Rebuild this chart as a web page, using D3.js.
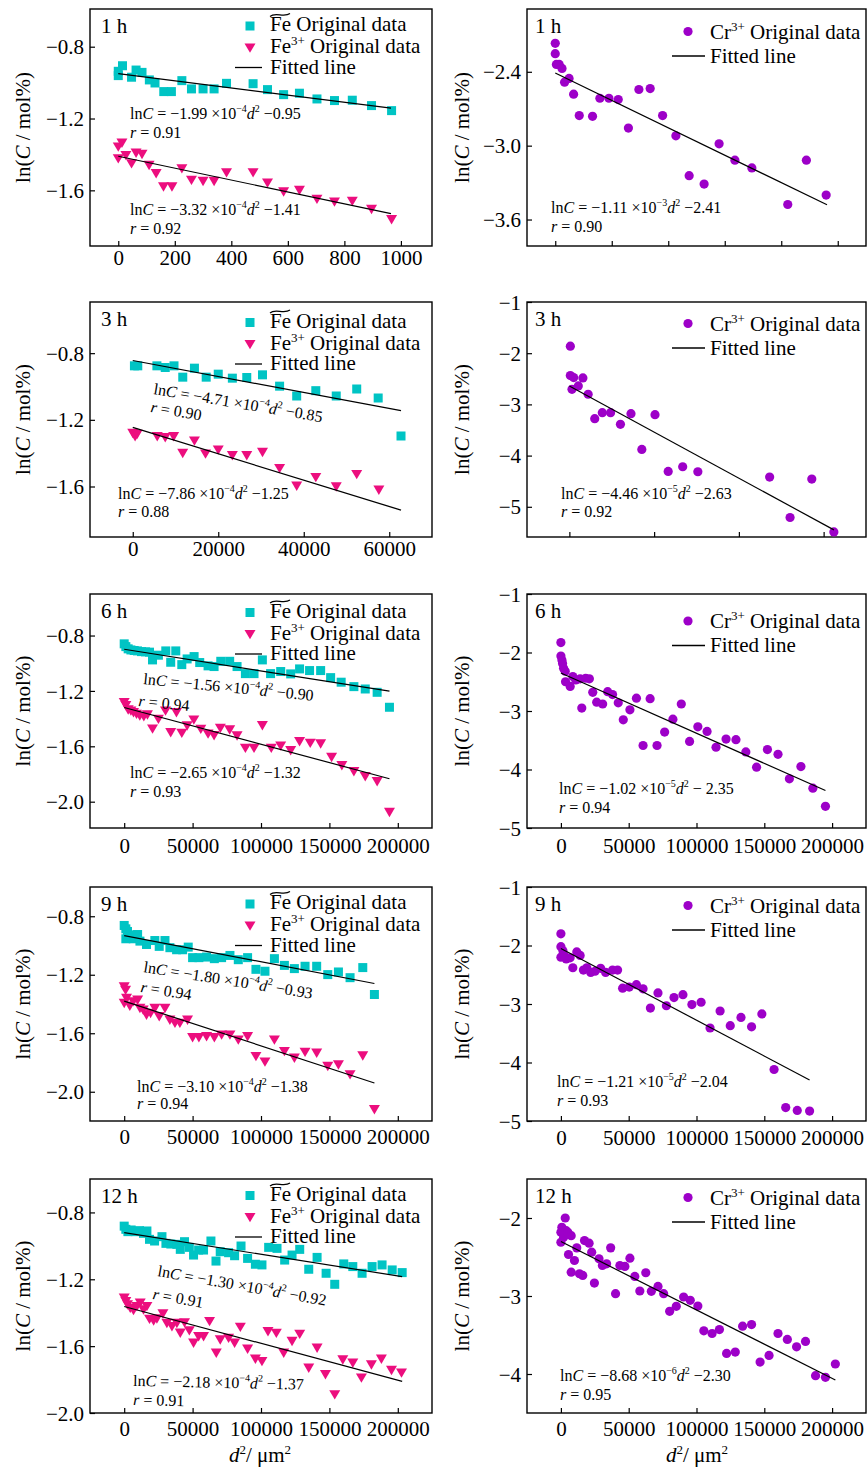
<!DOCTYPE html>
<head>
<meta charset="utf-8" />
<script src="https://d3js.org/d3.v7.min.js"></script>
<style>
    body { margin: 0; background: #fff; }
    text { font-family: "Liberation Serif", "Times New Roman", serif; fill: #000; }
</style>
</head>
<body>
<script>
// ---------- data ----------
// [d^2 (um^2), ln(C / mol%)]
var fe1h = [[0,-0.937],[0,-0.961],[15,-0.906],[47,-0.970],[63,-0.930],[84,-0.943],[110,-0.985],[130,-1.002],[161,-1.05],[188,-1.05],[225,-0.989],[259,-1.035],[300,-1.035],[339,-1.035],[383,-1.004],[477,-1.006],[528,-1.039],[585,-1.067],[641,-1.059],[703,-1.091],[765,-1.10],[828,-1.098],[896,-1.128],[967,-1.156]];
var fe3_1h = [[0,-1.359],[0,-1.424],[13,-1.337],[27,-1.406],[47,-1.452],[63,-1.393],[84,-1.40],[109,-1.461],[134,-1.507],[160,-1.581],[190,-1.581],[225,-1.48],[259,-1.544],[300,-1.55],[339,-1.55],[383,-1.502],[477,-1.502],[528,-1.559],[585,-1.609],[641,-1.60],[703,-1.65],[765,-1.665],[828,-1.661],[896,-1.706],[967,-1.763]];
var cr1h = [[0,-2.169],[0,-2.253],[4,-2.34],[14,-2.34],[24,-2.373],[33,-2.484],[49,-2.454],[65,-2.582],[85,-2.756],[132,-2.762],[158,-2.615],[190,-2.615],[223,-2.626],[259,-2.857],[296,-2.544],[336,-2.536],[380,-2.756],[427,-2.92],[474,-3.244],[527,-3.312],[580,-2.985],[636,-3.118],[696,-3.181],[823,-3.478],[889,-3.118],[959,-3.401]];

var fe3h = [[392,-0.876],[1176,-0.876],[5650,-0.876],[7600,-0.886],[9650,-0.876],[11700,-0.944],[14430,-0.89],[17180,-0.944],[20000,-0.926],[23300,-0.95],[26670,-0.946],[30350,-0.93],[34350,-0.998],[38350,-1.057],[42820,-1.025],[47600,-1.057],[52390,-1.015],[57410,-1.069],[62750,-1.297]];
var fe3_3h = [[0,-1.281],[550,-1.301],[1020,-1.287],[5725,-1.301],[7600,-1.307],[9570,-1.301],[11690,-1.401],[14430,-1.327],[17020,-1.405],[20000,-1.381],[23300,-1.415],[26670,-1.415],[30350,-1.395],[34350,-1.492],[38350,-1.598],[42820,-1.546],[47600,-1.602],[52390,-1.528],[57570,-1.622]];
var cr3h = [[230,-1.863],[230,-2.437],[1010,-2.476],[620,-2.705],[2100,-2.639],[3190,-2.483],[4430,-2.802],[5985,-3.279],[7770,-3.161],[9720,-3.161],[12050,-3.389],[14540,-3.181],[17100,-3.879],[20210,-3.20],[23320,-4.309],[26740,-4.218],[30320,-4.316],[47260,-4.42],[52080,-5.209],[57210,-4.459],[62420,-5.49]];

var fe6h = [[0,-0.86],[1200,-0.88],[2900,-0.896],[4900,-0.904],[7300,-0.908],[9700,-0.911],[12650,-0.916],[15600,-0.918],[18500,-0.92],[20700,-0.976],[25000,-0.942],[30400,-0.911],[34000,-0.993],[37700,-0.911],[42100,-1.01],[46000,-0.969],[51100,-0.952],[55200,-0.995],[61300,-1.019],[65700,-1.024],[70600,-0.986],[77100,-0.986],[82500,-1.024],[88600,-1.075],[94900,-1.075],[101000,-0.976],[107000,-1.075],[114400,-1.06],[121700,-1.077],[128200,-1.041],[135500,-1.053],[143600,-1.053],[150900,-1.104],[158600,-1.137],[167900,-1.169],[176200,-1.186],[184900,-1.21],[193900,-1.318]];
var fe3_6h = [[0,-1.284],[1200,-1.306],[2900,-1.337],[4900,-1.345],[6800,-1.357],[9000,-1.369],[11400,-1.381],[14350,-1.386],[17000,-1.373],[20700,-1.475],[25000,-1.405],[30200,-1.345],[34000,-1.501],[38200,-1.357],[42100,-1.506],[46000,-1.453],[50900,-1.41],[56000,-1.477],[61300,-1.511],[65700,-1.523],[70300,-1.47],[77100,-1.482],[82500,-1.525],[88600,-1.614],[94900,-1.614],[101000,-1.451],[107500,-1.614],[114400,-1.598],[121700,-1.631],[128200,-1.566],[136000,-1.578],[143600,-1.583],[151600,-1.68],[159100,-1.74],[167900,-1.783],[176200,-1.819],[184900,-1.855],[193900,-2.077]];
var cr6h = [[0,-1.83],[0,-2.06],[730,-2.13],[1220,-2.19],[1960,-2.27],[3180,-2.32],[3420,-2.50],[6850,-2.58],[8800,-2.41],[11000,-2.47],[14200,-2.45],[15400,-2.95],[18300,-2.44],[21000,-2.45],[23500,-2.68],[26400,-2.85],[30800,-2.88],[34500,-2.67],[38100,-2.72],[42300,-2.86],[46000,-3.15],[50900,-2.98],[55700,-2.78],[60600,-3.59],[65800,-2.79],[70900,-3.59],[76500,-3.36],[82600,-3.14],[88800,-2.88],[94900,-3.52],[101000,-3.27],[107800,-3.35],[114400,-3.62],[121800,-3.48],[129100,-3.49],[136400,-3.70],[144300,-3.96],[152300,-3.66],[160100,-3.74],[168500,-4.16],[177000,-3.95],[185800,-4.32],[195100,-4.63]];

var fe9h = [[0,-0.863],[1200,-0.886],[2400,-0.904],[1200,-0.954],[4100,-0.927],[6600,-0.954],[9800,-0.925],[11500,-0.97],[16300,-0.993],[22400,-0.966],[25600,-1.006],[29800,-0.966],[33400,-1.015],[38300,-1.029],[42700,-1.029],[46800,-1.011],[50000,-1.083],[54600,-1.083],[60200,-1.079],[65900,-1.09],[71200,-1.083],[77300,-1.068],[83400,-1.097],[90200,-1.083],[96300,-1.163],[102900,-1.176],[109800,-1.09],[117100,-1.136],[124400,-1.158],[132200,-1.142],[140700,-1.142],[148800,-1.199],[156600,-1.181],[165100,-1.22],[174400,-1.151],[182900,-1.335]];
var fe3_9h = [[0,-1.283],[1000,-1.306],[1700,-1.362],[0,-1.396],[4100,-1.415],[6600,-1.385],[9800,-1.374],[11500,-1.43],[13900,-1.442],[16300,-1.476],[19300,-1.464],[22400,-1.43],[25600,-1.487],[29800,-1.43],[33400,-1.51],[37100,-1.532],[40700,-1.532],[46300,-1.51],[50000,-1.63],[54600,-1.63],[60200,-1.623],[65900,-1.63],[71200,-1.612],[77300,-1.612],[83400,-1.646],[90200,-1.623],[96300,-1.759],[102900,-1.797],[109800,-1.646],[117100,-1.725],[124400,-1.77],[132200,-1.73],[140700,-1.736],[148800,-1.827],[156600,-1.816],[165100,-1.884],[174400,-1.755],[182900,-2.122]];
var cr9h = [[0,-1.80],[0,-2.02],[0,-2.20],[1500,-2.09],[2400,-2.17],[3900,-2.23],[6800,-2.21],[8800,-2.38],[11700,-2.11],[14200,-2.17],[16600,-2.42],[19100,-2.38],[22000,-2.46],[25200,-2.44],[29300,-2.39],[33000,-2.46],[38100,-2.42],[41800,-2.42],[45500,-2.73],[50400,-2.71],[55700,-2.67],[60600,-2.74],[66000,-3.07],[71600,-2.81],[77800,-3.03],[83400,-2.89],[90000,-2.84],[96600,-3.01],[103400,-2.97],[110000,-3.41],[117400,-3.12],[124900,-3.37],[132800,-3.23],[140600,-3.39],[148200,-3.17],[157200,-4.12],[165800,-4.77],[174300,-4.82],[183400,-4.83]];

var fe12h = [[0,-0.882],[1200,-0.901],[2700,-0.915],[5100,-0.905],[8000,-0.915],[11200,-0.909],[14100,-0.925],[16600,-0.911],[18500,-0.961],[22200,-0.971],[27600,-0.945],[30500,-0.985],[34100,-0.989],[38500,-0.991],[41000,-1.021],[44100,-0.975],[47600,-1.009],[50700,-1.055],[54400,-1.025],[58000,-1.025],[63400,-0.971],[67100,-1.091],[70200,-1.035],[76300,-1.041],[80700,-1.059],[85400,-1.001],[90200,-1.075],[95900,-1.110],[100700,-1.114],[105600,-1.009],[111700,-1.015],[117300,-1.085],[122700,-1.055],[128300,-1.021],[134900,-1.140],[141000,-1.069],[147600,-1.164],[153900,-1.230],[160500,-1.108],[167100,-1.124],[173900,-1.164],[181200,-1.124],[188500,-1.114],[195900,-1.144],[203200,-1.160]];
var fe3_12h = [[0,-1.313],[1200,-1.333],[2400,-1.353],[4400,-1.373],[6800,-1.387],[9300,-1.363],[11700,-1.343],[14100,-1.383],[16600,-1.363],[18500,-1.439],[21500,-1.449],[23900,-1.437],[28300,-1.407],[31200,-1.464],[34900,-1.483],[38500,-1.464],[41000,-1.522],[44100,-1.46],[47600,-1.508],[50700,-1.582],[54400,-1.543],[58000,-1.543],[62400,-1.453],[67300,-1.642],[70200,-1.563],[76300,-1.553],[80700,-1.582],[84900,-1.487],[90200,-1.618],[95900,-1.678],[100700,-1.692],[105100,-1.513],[111200,-1.523],[116600,-1.642],[122700,-1.572],[128300,-1.529],[134900,-1.732],[141000,-1.612],[147100,-1.771],[153900,-1.891],[159800,-1.682],[167100,-1.702],[173400,-1.791],[180700,-1.712],[188000,-1.678],[195400,-1.745],[202700,-1.761]];
var cr12h = [[0,-2.183],[0,-2.311],[700,-2.119],[2000,-2.247],[3200,-2.0],[3900,-2.162],[5100,-2.183],[7600,-2.226],[5600,-2.468],[7600,-2.694],[10000,-2.545],[11700,-2.383],[13700,-2.715],[16100,-2.736],[17400,-2.289],[20800,-2.323],[22700,-2.438],[24700,-2.834],[28100,-2.523],[30600,-2.609],[33700,-2.587],[36700,-2.383],[40300,-2.970],[43500,-2.609],[47200,-2.621],[50900,-2.515],[54500,-2.749],[58200,-2.936],[62600,-2.702],[66700,-2.940],[71600,-2.877],[75800,-2.970],[80200,-3.196],[85100,-3.132],[90500,-3.013],[95400,-3.055],[101000,-3.128],[105400,-3.447],[111500,-3.481],[116900,-3.430],[122200,-3.736],[128600,-3.719],[134000,-3.387],[140600,-3.366],[146900,-3.847],[153500,-3.762],[160100,-3.481],[167000,-3.557],[173800,-3.651],[180400,-3.583],[187800,-4.021],[195100,-4.043],[202400,-3.872]];

// fitted line end points
var feFit1h = [[0,-0.95],[965,-1.142]], fe3Fit1h = [[0,-1.41],[965,-1.73]], crFit1h = [[0,-2.41],[962,-3.48]];
var feFit3h = [[0,-0.844],[62750,-1.145]], fe3Fit3h = [[0,-1.245],[62750,-1.742]], crFit3h = [[0,-2.639],[62420,-5.451]];
var feFit6h = [[0,-0.899],[193900,-1.202]], fe3Fit6h = [[0,-1.32],[193900,-1.834]], crFit6h = [[0,-2.35],[195100,-4.36]];
var feFit9h = [[0,-0.932],[182900,-1.26]], fe3Fit9h = [[0,-1.38],[182900,-1.94]], crFit9h = [[0,-2.05],[183400,-4.30]];
var feFit12h = [[0,-0.921],[203200,-1.184]], fe3Fit12h = [[0,-1.363],[203200,-1.811]], crFit12h = [[0,-2.302],[202400,-4.077]];

// fit equations: [coefficient, exponent, intercept, r]
var eqFe1h = ["\u22121.99", "\u22124", "\u22120.95", "0.91"], eqFe3_1h = ["\u22123.32", "\u22124", "\u22121.41", "0.92"], eqCr1h = ["\u22121.11", "\u22123", "\u22122.41", "0.90"];
var eqFe3h = ["\u22124.71", "\u22124", "\u22120.85", "0.90"], eqFe3_3h = ["\u22127.86", "\u22124", "\u22121.25", "0.88"], eqCr3h = ["\u22124.46", "\u22125", "\u22122.63", "0.92"];
var eqFe6h = ["\u22121.56", "\u22124", "\u22120.90", "0.94"], eqFe3_6h = ["\u22122.65", "\u22124", "\u22121.32", "0.93"], eqCr6h = ["\u22121.02", "\u22125", "\u2212 2.35", "0.94"];
var eqFe9h = ["\u22121.80", "\u22124", "\u22120.93", "0.94"], eqFe3_9h = ["\u22123.10", "\u22124", "\u22121.38", "0.94"], eqCr9h = ["\u22121.21", "\u22125", "\u22122.04", "0.93"];
var eqFe12h = ["\u22121.30", "\u22124", "\u22120.92", "0.91"], eqFe3_12h = ["\u22122.18", "\u22124", "\u22121.37", "0.91"], eqCr12h = ["\u22128.68", "\u22126", "\u22122.30", "0.95"];

// ticks
var xTicks1h = [0, 200, 400, 600, 800, 1000];
var xTicks3h = [0, 20000, 40000, 60000];
var xTicksLong = [0, 50000, 100000, 150000, 200000];
var yTicksFe = [-0.8, -1.2, -1.6];
var yTicksFe2 = [-0.8, -1.2, -1.6, -2.0];
var yTicksCr1h = [-2.4, -3.0, -3.6];
var yTicksCr = [-1, -2, -3, -4, -5];
var yTicksCr12h = [-2, -3, -4];

// ---------- drawing ----------
var width = 867, height = 1468;
var cyan = "#00c4c4", pink = "#ec0e7e", purple = "#9d00c8";

var svg = d3.select("body").append("svg")
    .attr("width", width)
    .attr("height", height);

var cols = [[90, 432], [527, 866]];

function minus(v, dec) {
    return (v < 0 ? "\u2212" : "") + Math.abs(v).toFixed(dec);
}

var panels = [
    { label: "1 h", col: 0, top: 9, bottom: 246, xd: [-100, 1110], xt: xTicks1h, xl: true, xoff: 18.5,
      yd: [-1.91, -0.59], yt: yTicksFe, dec: 1, legY: 16,
      series: [{ d: fe1h, fit: feFit1h, s: "sq" }, { d: fe3_1h, fit: fe3Fit1h, s: "tri" }],
      eqs: [{ e: eqFe1h, x: 130, y: 119, rx: 130, ry: 138, rot: 0 }, { e: eqFe3_1h, x: 130, y: 215, rx: 130, ry: 234, rot: 0 }] },
    { label: "1 h", col: 1, top: 9, bottom: 246, xd: [-100, 1100], xt: xTicks1h, xl: false,
      yd: [-3.815, -1.89], yt: yTicksCr1h, dec: 1, legY: 22.5,
      series: [{ d: cr1h, fit: crFit1h, s: "ci" }],
      eqs: [{ e: eqCr1h, x: 551, y: 213, rx: 551, ry: 232, rot: 0 }] },
    { label: "3 h", col: 0, top: 302, bottom: 537, xd: [-10000, 70000], xt: xTicks3h, xl: true, xoff: 18.5,
      yd: [-1.903, -0.493], yt: yTicksFe, dec: 1, legY: 19.5,
      series: [{ d: fe3h, fit: feFit3h, s: "sq" }, { d: fe3_3h, fit: fe3Fit3h, s: "tri" }],
      eqs: [{ e: eqFe3h, x: 153, y: 394, rx: 150, ry: 412, rot: 9.5 }, { e: eqFe3_3h, x: 118, y: 499, rx: 118, ry: 517, rot: 0 }] },
    { label: "3 h", col: 1, top: 302, bottom: 537, xd: [-10000, 70000], xt: xTicks3h, xl: false,
      yd: [-5.59, -1], yt: yTicksCr, dec: 0, legY: 21.5,
      series: [{ d: cr3h, fit: crFit3h, s: "ci" }],
      eqs: [{ e: eqCr3h, x: 561, y: 499, rx: 561, ry: 517, rot: 0 }] },
    { label: "6 h", col: 0, top: 594, bottom: 828, xd: [-25000, 225000], xt: xTicksLong, xl: true, xoff: 24.5,
      yd: [-2.19, -0.5], yt: yTicksFe2, dec: 1, legY: 17.5,
      series: [{ d: fe6h, fit: feFit6h, s: "sq" }, { d: fe3_6h, fit: fe3Fit6h, s: "tri" }],
      eqs: [{ e: eqFe6h, x: 143, y: 684, rx: 138, ry: 706, rot: 5.6 }, { e: eqFe3_6h, x: 130, y: 778, rx: 130, ry: 797, rot: 0 }] },
    { label: "6 h", col: 1, top: 594, bottom: 828, xd: [-25000, 225000], xt: xTicksLong, xl: true, xoff: 24.5,
      yd: [-5, -1], yt: yTicksCr, dec: 0, legY: 27,
      series: [{ d: cr6h, fit: crFit6h, s: "ci" }],
      eqs: [{ e: eqCr6h, x: 559, y: 794, rx: 559, ry: 813, rot: 0 }] },
    { label: "9 h", col: 0, top: 887, bottom: 1121, xd: [-25000, 225000], xt: xTicksLong, xl: true, xoff: 23,
      yd: [-2.2, -0.6], yt: yTicksFe2, dec: 1, legY: 16,
      series: [{ d: fe9h, fit: feFit9h, s: "sq" }, { d: fe3_9h, fit: fe3Fit9h, s: "tri" }],
      eqs: [{ e: eqFe9h, x: 143, y: 972, rx: 140, ry: 992, rot: 9 }, { e: eqFe3_9h, x: 137, y: 1092, rx: 137, ry: 1109, rot: 0 }] },
    { label: "9 h", col: 1, top: 887, bottom: 1121, xd: [-25000, 225000], xt: xTicksLong, xl: true, xoff: 24,
      yd: [-5, -1], yt: yTicksCr, dec: 0, legY: 18.5,
      series: [{ d: cr9h, fit: crFit9h, s: "ci" }],
      eqs: [{ e: eqCr9h, x: 557, y: 1087, rx: 557, ry: 1106, rot: 0 }] },
    { label: "12 h", col: 0, top: 1179, bottom: 1413, xd: [-25000, 225000], xt: xTicksLong, xl: true, xoff: 23,
      yd: [-2.0, -0.6], yt: yTicksFe2, dec: 1, legY: 15.5,
      series: [{ d: fe12h, fit: feFit12h, s: "sq" }, { d: fe3_12h, fit: fe3Fit12h, s: "tri" }],
      eqs: [{ e: eqFe12h, x: 157, y: 1276, rx: 152, ry: 1299, rot: 10 }, { e: eqFe3_12h, x: 133, y: 1386, rx: 133, ry: 1405, rot: 1.2 }] },
    { label: "12 h", col: 1, top: 1179, bottom: 1413, xd: [-25000, 225000], xt: xTicksLong, xl: true, xoff: 23,
      yd: [-4.5, -1.5], yt: yTicksCr12h, dec: 0, legY: 18.5,
      series: [{ d: cr12h, fit: crFit12h, s: "ci" }],
      eqs: [{ e: eqCr12h, x: 560, y: 1381, rx: 560, ry: 1400, rot: 0 }] }
];

function marker(sel, s) {
    if (s == "sq") {
        sel.append("rect").attr("x", -4.5).attr("y", -4.5).attr("width", 9).attr("height", 9).attr("fill", cyan);
    } else if (s == "tri") {
        sel.append("path").attr("d", "M-5.5,-4.6L5.5,-4.6L0,4.8Z").attr("fill", pink);
    } else {
        sel.append("circle").attr("r", 4.6).attr("fill", purple);
    }
}

function addSup(t, txt) {
    t.append("tspan").attr("dy", -7).attr("font-size", 10).text(txt);
}

function equation(g, eq, item) {
    var t = g.append("text").attr("font-size", 16)
        .attr("transform", "translate(" + item.x + "," + item.y + ") rotate(" + item.rot + ")");
    t.append("tspan").text("ln");
    t.append("tspan").attr("font-style", "italic").text("C");
    t.append("tspan").text(" = " + eq[0] + " \u00d710");
    addSup(t, eq[1]);
    t.append("tspan").attr("dy", 7).attr("font-style", "italic").text("d");
    addSup(t, "2");
    t.append("tspan").attr("dy", 7).text(" " + eq[2]);

    var r = g.append("text").attr("font-size", 16)
        .attr("transform", "translate(" + item.rx + "," + item.ry + ") rotate(" + item.rot + ")");
    r.append("tspan").attr("font-style", "italic").text("r");
    r.append("tspan").text(" = " + eq[3]);
}

function drawPanel(p) {
    var x0 = cols[p.col][0], x1 = cols[p.col][1];
    var x = d3.scaleLinear().domain(p.xd).range([x0, x1]);
    var y = d3.scaleLinear().domain(p.yd).range([p.bottom, p.top]);
    var g = svg.append("g");

    // axes, ticks point inward
    var xAxis = d3.axisBottom(x).tickValues(p.xt).tickSize(-5)
        .tickFormat(function(d) { return p.xl ? String(d) : ""; });
    var gx = g.append("g").attr("transform", "translate(0," + p.bottom + ")").call(xAxis);
    gx.select(".domain").remove();
    gx.selectAll("line").attr("stroke", "#000").attr("stroke-width", 1.2);
    gx.selectAll("text").attr("font-size", 21).attr("font-family", "Liberation Serif").attr("fill", "#000")
        .attr("dy", null).attr("y", p.xoff || 0);

    var yAxis = d3.axisLeft(y).tickValues(p.yt).tickSize(-5)
        .tickFormat(function(d) { return minus(d, p.dec); });
    var gy = g.append("g").attr("transform", "translate(" + x0 + ",0)").call(yAxis);
    gy.select(".domain").remove();
    gy.selectAll("line").attr("stroke", "#000").attr("stroke-width", 1.2);
    gy.selectAll("text").attr("font-size", 21).attr("font-family", "Liberation Serif").attr("fill", "#000")
        .attr("x", -6).attr("dy", "0.34em");

    // frame
    g.append("rect").attr("x", x0).attr("y", p.top)
        .attr("width", x1 - x0).attr("height", p.bottom - p.top)
        .attr("fill", "none").attr("stroke", "#000").attr("stroke-width", 1.4);

    // points
    p.series.forEach(function(s) {
        g.append("g").selectAll("g")
            .data(s.d)
            .join("g")
            .attr("transform", function(d) { return "translate(" + x(d[0]) + "," + y(d[1]) + ")"; })
            .each(function() { marker(d3.select(this), s.s); });
    });
    // fitted lines
    p.series.forEach(function(s) {
        g.append("line")
            .attr("x1", x(s.fit[0][0])).attr("y1", y(s.fit[0][1]))
            .attr("x2", x(s.fit[1][0])).attr("y2", y(s.fit[1][1]))
            .attr("stroke", "#000").attr("stroke-width", 1.2);
    });

    p.eqs.forEach(function(item) { equation(g, item.e, item); });

    // panel label
    g.append("text").attr("x", x0 + 11 + (p.col ? -3 : 0)).attr("y", p.top + 24)
        .attr("font-size", 21).text(p.label);

    // legend
    var ly = p.top + p.legY;
    if (p.col == 0) {
        var lg = g.append("g");
        marker(lg.append("g").attr("transform", "translate(250," + (ly + 1) + ")"), "sq");
        lg.append("text").attr("x", 270).attr("y", ly + 6).attr("font-size", 21).text("Fe Original data");
        // tilde over "Fe"
        lg.append("path")
            .attr("d", "M270," + (ly - 8.5) + " C275," + (ly - 13.5) + " 284," + (ly - 7) + " 290," + (ly - 11.5))
            .attr("fill", "none").attr("stroke", "#000").attr("stroke-width", 1.1);
        marker(lg.append("g").attr("transform", "translate(250," + (ly + 23) + ")"), "tri");
        var t2 = lg.append("text").attr("x", 270).attr("y", ly + 28).attr("font-size", 21);
        t2.append("tspan").text("Fe");
        t2.append("tspan").attr("dy", -8).attr("font-size", 13).text("3+");
        t2.append("tspan").attr("dy", 8).text(" Original data");
        lg.append("line").attr("x1", 235).attr("x2", 262).attr("y1", ly + 42.5).attr("y2", ly + 42.5)
            .attr("stroke", "#000").attr("stroke-width", 1.3);
        lg.append("text").attr("x", 270).attr("y", ly + 48.5).attr("font-size", 21).text("Fitted line");
    } else {
        var rg = g.append("g");
        marker(rg.append("g").attr("transform", "translate(688," + ly + ")"), "ci");
        var t3 = rg.append("text").attr("x", 710).attr("y", ly + 7).attr("font-size", 21);
        t3.append("tspan").text("Cr");
        t3.append("tspan").attr("dy", -8).attr("font-size", 13).text("3+");
        t3.append("tspan").attr("dy", 8).text(" Original data");
        rg.append("line").attr("x1", 672).attr("x2", 705).attr("y1", ly + 24.5).attr("y2", ly + 24.5)
            .attr("stroke", "#000").attr("stroke-width", 1.3);
        rg.append("text").attr("x", 710).attr("y", ly + 31).attr("font-size", 21).text("Fitted line");
    }

    // y axis title
    var yt = g.append("text").attr("font-size", 21).attr("text-anchor", "middle")
        .attr("transform", "translate(" + (p.col ? 469 : 30) + "," + ((p.top + p.bottom) / 2) + ") rotate(-90)");
    yt.append("tspan").text("ln(");
    yt.append("tspan").attr("font-style", "italic").text("C");
    yt.append("tspan").text(" / mol%)");
}

panels.forEach(drawPanel);

// x axis titles under the bottom row
[260, 697].forEach(function(cx) {
    var t = svg.append("text").attr("x", cx).attr("y", 1462).attr("font-size", 21).attr("text-anchor", "middle");
    t.append("tspan").attr("font-style", "italic").text("d");
    t.append("tspan").attr("dy", -8).attr("font-size", 13).text("2");
    t.append("tspan").attr("dy", 8).text("/ \u03bcm");
    t.append("tspan").attr("dy", -8).attr("font-size", 13).text("2");
});
</script>
</body>
